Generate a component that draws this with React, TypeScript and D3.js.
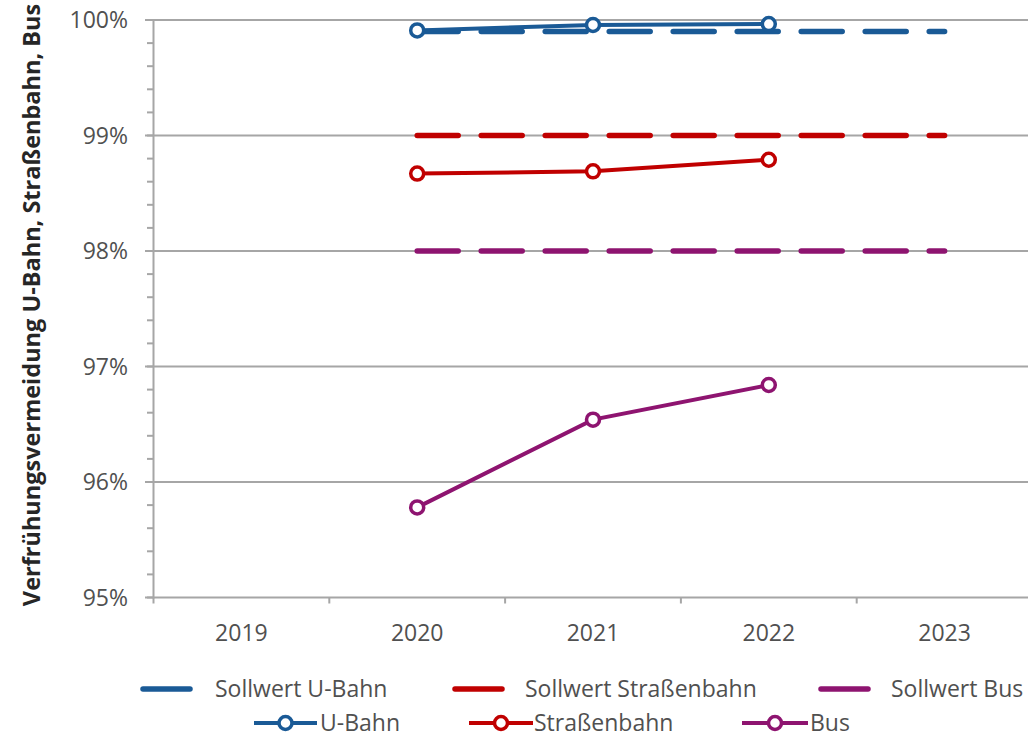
import React from "react";
import * as d3 from "d3";

// Categories on the x axis
const years = ["2019", "2020", "2021", "2022", "2023"];

// Measured values (percent)
const actualYears = ["2020", "2021", "2022"];
const uBahnValues = [99.91, 99.957, 99.965];
const strassenbahnValues = [98.67, 98.69, 98.79];
const busValues = [95.78, 96.54, 96.84];

// Target values (percent)
const targetYears = ["2020", "2021", "2022", "2023"];
const sollUBahn = [99.9, 99.9, 99.9, 99.9];
const sollStrassenbahn = [99, 99, 99, 99];
const sollBus = [98, 98, 98, 98];

// Y axis ticks
const yTicks = [95, 96, 97, 98, 99, 100];
const yMinorTicks = d3.range(95, 100.0001, 0.2);

const BLUE = "#1a5a96";
const RED = "#c00000";
const PURPLE = "#8e1470";
const GRID = "#a6a6a6";
const TEXT = "#505050";
const FONT = "'Open Sans', 'Noto Sans', sans-serif";
const FS = 23;

const W = 1028;
const H = 739;
const plot = { left: 153.5, right: 1032.5, top: 20, bottom: 597.5 };

export default function App() {
  const x = d3
    .scalePoint<string>()
    .domain(years)
    .range([plot.left, plot.right])
    .padding(0.5);
  const step = x.step();
  const y = d3.scaleLinear().domain([95, 100]).range([plot.bottom, plot.top]);

  const line = d3
    .line<[string, number]>()
    .x((d) => x(d[0]) as number)
    .y((d) => y(d[1]));

  const targets = [
    { values: sollUBahn, color: BLUE },
    { values: sollStrassenbahn, color: RED },
    { values: sollBus, color: PURPLE },
  ];
  const actuals = [
    { values: uBahnValues, color: BLUE },
    { values: strassenbahnValues, color: RED },
    { values: busValues, color: PURPLE },
  ];

  const boundaries = d3.range(years.length + 1).map((i) => plot.left + i * step);

  const row1 = 689;
  const row2 = 723;
  const legendTop = [
    { label: "Sollwert U-Bahn", color: BLUE, x1: 143, x2: 190, tx: 215 },
    { label: "Sollwert Straßenbahn", color: RED, x1: 455, x2: 502, tx: 525 },
    { label: "Sollwert Bus", color: PURPLE, x1: 821, x2: 868, tx: 891 },
  ];
  const legendBottom = [
    { label: "U-Bahn", color: BLUE, x1: 254, x2: 317, tx: 320 },
    { label: "Straßenbahn", color: RED, x1: 469, x2: 533, tx: 534 },
    { label: "Bus", color: PURPLE, x1: 742, x2: 808, tx: 810 },
  ];

  return (
    <svg
      width={W}
      height={H}
      style={{ position: "absolute", left: 0, top: 0, background: "#fff" }}
      fontFamily={FONT}
    >
      {/* horizontal gridlines */}
      {yTicks.map((t) => (
        <line
          key={"g" + t}
          x1={145}
          x2={W}
          y1={y(t)}
          y2={y(t)}
          stroke={GRID}
          strokeWidth={2}
        />
      ))}
      {/* minor ticks on the y axis */}
      {yMinorTicks.map((t, i) => (
        <line
          key={"m" + i}
          x1={147}
          x2={plot.left}
          y1={y(t)}
          y2={y(t)}
          stroke={GRID}
          strokeWidth={2}
        />
      ))}
      {/* y axis */}
      <line x1={plot.left} x2={plot.left} y1={plot.top} y2={plot.bottom + 1} stroke={GRID} strokeWidth={2} />
      {/* x axis ticks */}
      {boundaries.map((bx, i) => (
        <line key={"xt" + i} x1={bx} x2={bx} y1={plot.bottom} y2={plot.bottom + 6} stroke={GRID} strokeWidth={2} />
      ))}
      {/* y tick labels */}
      {yTicks.map((t) => (
        <text
          key={"yl" + t}
          x={128}
          y={y(t)}
          dy="0.35em"
          textAnchor="end"
          fontSize={FS}
          fill={TEXT}
        >
          {t + "%"}
        </text>
      ))}
      {/* x tick labels */}
      {years.map((yr) => (
        <text
          key={"xl" + yr}
          x={x(yr)}
          y={633}
          dy="0.35em"
          textAnchor="middle"
          fontSize={FS}
          fill={TEXT}
        >
          {yr}
        </text>
      ))}
      {/* y axis title */}
      <text
        transform={`translate(40, 305) rotate(-90)`}
        textAnchor="middle"
        fontSize={23.5}
        fontWeight="bold"
        fill="#262626"
      >
        Verfrühungsvermeidung U-Bahn, Straßenbahn, Bus
      </text>

      {/* target lines */}
      {targets.map((s, i) => (
        <path
          key={"t" + i}
          d={line(targetYears.map((yr, j) => [yr, s.values[j]] as [string, number])) || ""}
          fill="none"
          stroke={s.color}
          strokeWidth={5.5}
          strokeDasharray="41 23"
          strokeLinecap="round"
        />
      ))}

      {/* measured lines */}
      {actuals.map((s, i) => {
        const pts = actualYears.map((yr, j) => [yr, s.values[j]] as [string, number]);
        return (
          <g key={"a" + i}>
            <path d={line(pts) || ""} fill="none" stroke={s.color} strokeWidth={4} />
            {pts.map((p, j) => (
              <circle
                key={j}
                cx={x(p[0])}
                cy={y(p[1])}
                r={6.5}
                fill="#fff"
                stroke={s.color}
                strokeWidth={3.5}
              />
            ))}
          </g>
        );
      })}

      {/* legend */}
      {legendTop.map((l) => (
        <g key={l.label}>
          <line x1={l.x1} x2={l.x2} y1={row1} y2={row1} stroke={l.color} strokeWidth={5.5} strokeLinecap="round" />
          <text x={l.tx} y={row1} dy="0.35em" fontSize={FS} fill={TEXT}>
            {l.label}
          </text>
        </g>
      ))}
      {legendBottom.map((l) => (
        <g key={l.label}>
          <line x1={l.x1} x2={l.x2} y1={row2} y2={row2} stroke={l.color} strokeWidth={4} />
          <circle cx={(l.x1 + l.x2) / 2} cy={row2} r={6.5} fill="#fff" stroke={l.color} strokeWidth={3.5} />
          <text x={l.tx} y={row2} dy="0.35em" fontSize={FS} fill={TEXT}>
            {l.label}
          </text>
        </g>
      ))}
    </svg>
  );
}
